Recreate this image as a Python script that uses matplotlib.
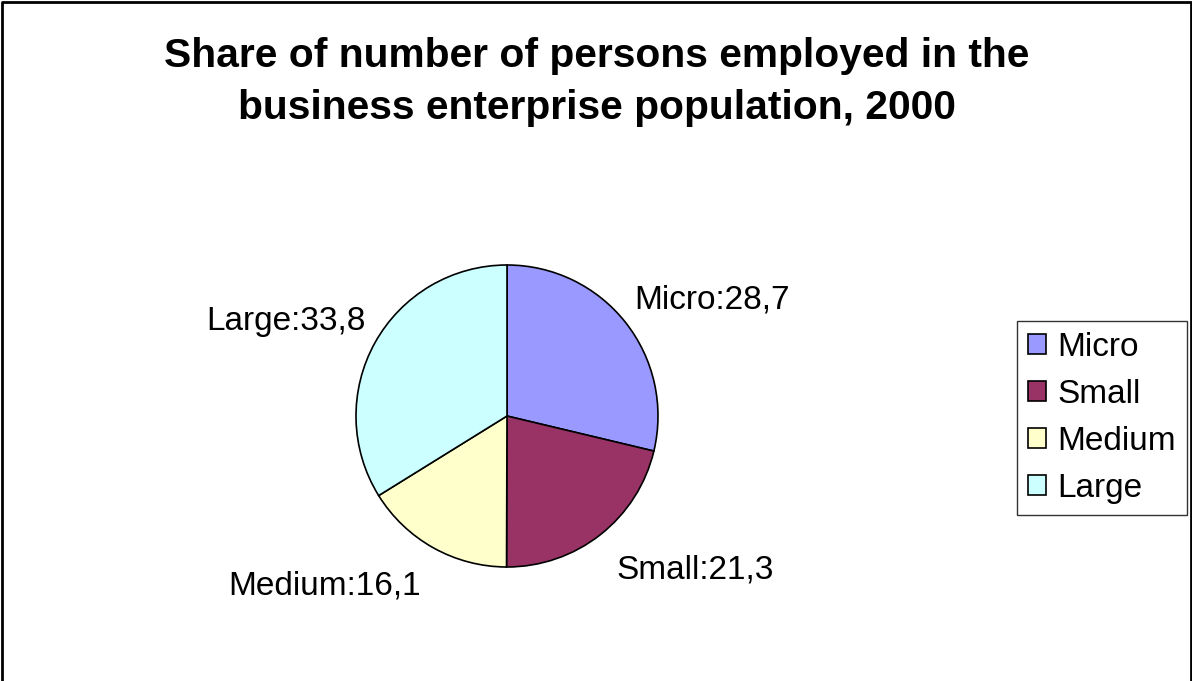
import numpy as np
import matplotlib
matplotlib.use('Agg')
import matplotlib.pyplot as plt
from matplotlib.patches import Patch

plt.rcParams['font.family'] = ['Liberation Sans', 'DejaVu Sans']

categories = ['Micro', 'Small', 'Medium', 'Large']
shares = [28.7, 21.3, 16.1, 33.8]
colors = ['#9999FF', '#993366', '#FFFFCC', '#CCFFFF']

W, H = 1192, 681
fig = plt.figure(figsize=(W / 100, H / 100), dpi=100)

# outer frame of the chart area
frame = fig.add_axes([0, 0, 1, 1])
frame.set_xlim(0, W)
frame.set_ylim(H, 0)
frame.axis('off')
frame.plot([1.5, 1.5, 1190.5, 1190.5], [H + 5, 1.5, 1.5, H + 5], color='black', lw=2)

fig.text(597 / W, 1 - 82 / H,
         'Share of number of persons employed in the\nbusiness enterprise population, 2000',
         ha='center', va='center', fontsize=29.3, fontweight='bold', linespacing=1.47)

# pie centred at (507, 416) px, radius 151 px
cx, cy, r = 507, 416, 151
ax = fig.add_axes([(cx - r) / W, 1 - (cy + r) / H, 2 * r / W, 2 * r / H])
wedges, _ = ax.pie(shares, colors=colors, startangle=90, counterclock=False,
                   wedgeprops=dict(edgecolor='black', linewidth=1.2))
ax.set_xlim(-1, 1)
ax.set_ylim(-1, 1)
ax.set_aspect('equal')

# data labels just outside each slice
for w, name, val in zip(wedges, categories, shares):
    mid = np.deg2rad((w.theta1 + w.theta2) / 2)
    d = 1.07 if np.sin(mid) > 0 else 1.17
    x, y = d * np.cos(mid), d * np.sin(mid)
    ha = 'left' if x > 0 else 'right'
    va = 'bottom' if y > 0 else 'top'
    ax.text(x, y, f'{name}:{val:.1f}'.replace('.', ','), ha=ha, va=va,
            fontsize=24, clip_on=False)

handles = [Patch(facecolor=c, edgecolor='black', linewidth=1.2) for c in colors]
leg = fig.legend(handles, categories, loc='upper left',
                 bbox_to_anchor=(1017 / W, 1 - 321 / H), fontsize=24,
                 frameon=True, fancybox=False, edgecolor='black',
                 handlelength=0.55, handleheight=0.55, handletextpad=0.33,
                 labelspacing=0.48, borderpad=0.33, borderaxespad=0)
leg.get_frame().set_linewidth(1.0)

fig.savefig('out.png', dpi=100)
